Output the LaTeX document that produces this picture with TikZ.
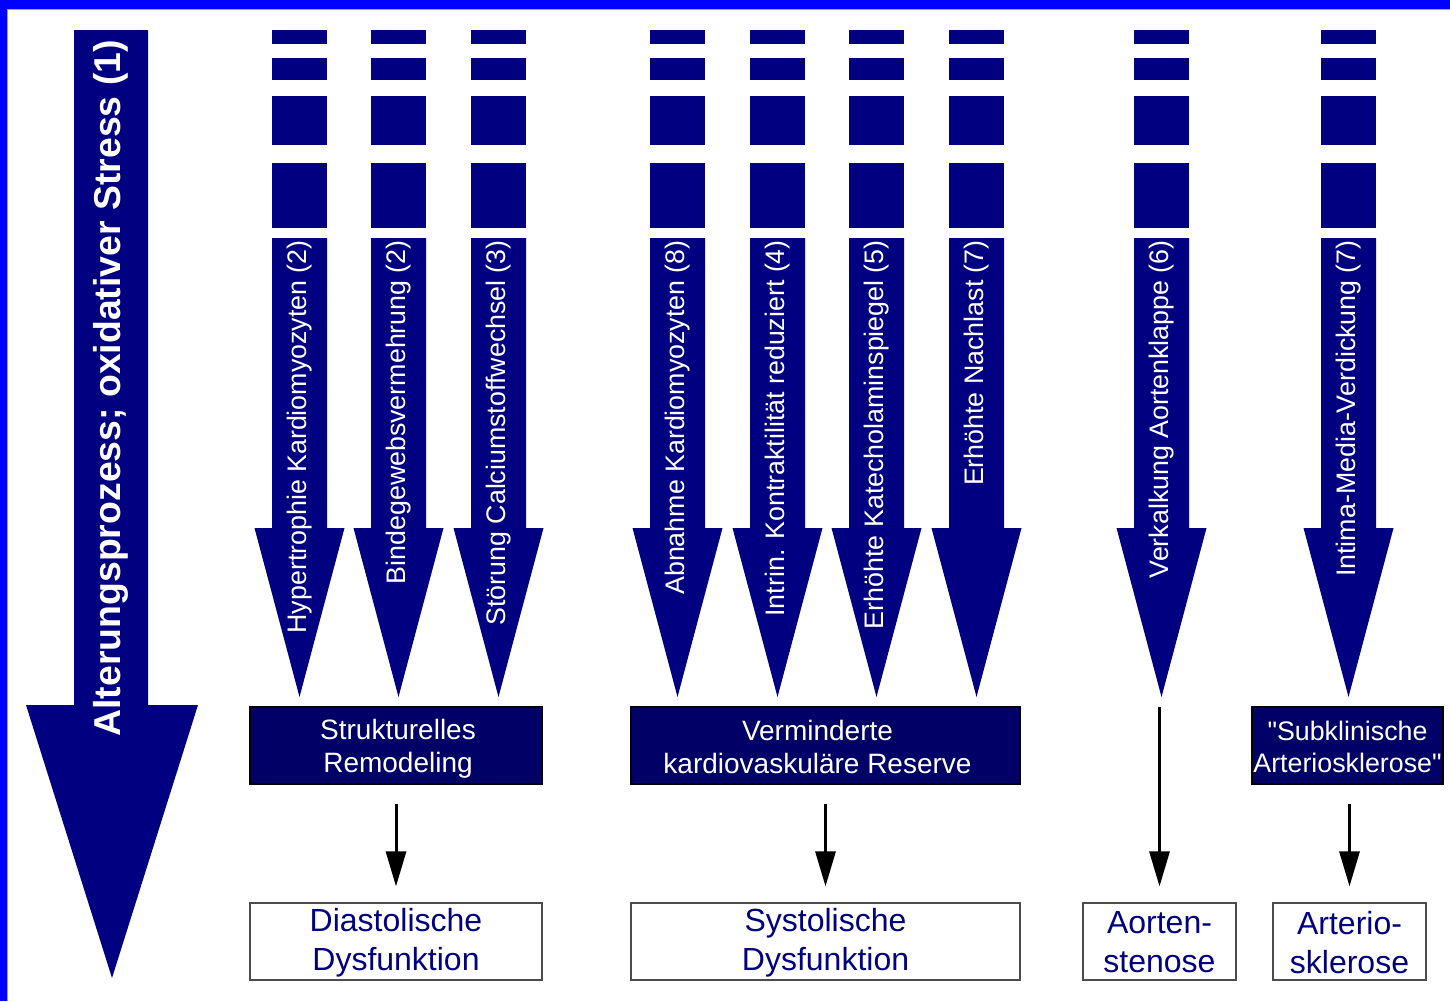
\documentclass[tikz,border=0pt]{standalone}
\usepackage{fontspec}
\setmainfont{Liberation Sans}
\usetikzlibrary{arrows.meta}
\definecolor{navyA}{HTML}{000080}
\definecolor{navyB}{HTML}{000066}
\definecolor{frameblue}{HTML}{0000FF}
\begin{document}
\begin{tikzpicture}[x=1pt,y=-1pt,
  darkbox/.style={draw=black, line width=1.2pt, fill=navyB, inner sep=0pt, minimum height=77},
  darktext/.style={text=white, align=center, inner sep=0pt, font=\fontsize{28}{33}\selectfont},
  lightbox/.style={draw=black!70, line width=1.2pt, fill=white, inner sep=0pt, minimum height=77},
  lighttext/.style={text=navyA, align=center, inner sep=0pt, font=\fontsize{32}{39}\selectfont},
  lab/.style={rotate=90, anchor=east, text=white, inner sep=0pt, font=\fontsize{26.8}{30}\selectfont},
  conn/.style={line width=3pt, -{Triangle[width=20pt,length=35pt]}}]
\useasboundingbox (0,0) rectangle (1450,1001);
\fill[white] (0,0) rectangle (1450,1001);
% frame
\fill[frameblue] (0,0) rectangle (1450,9);
\fill[frameblue] (0,0) rectangle (7,1001);
\fill[black!35] (7,9) rectangle (1450,10);
\fill[black!35] (7,9) rectangle (8,1001);
% big arrow
\fill[navyA] (74,30) -- (148,30) -- (148,705) -- (198,705) -- (112,978) -- (26,705) -- (74,705) -- cycle;
\node[lab, font=\bfseries\fontsize{37.4}{40}\selectfont] (big) at (111,40) {Alterungsprozess; oxidativer Stress (1)};
% small arrows
\foreach \c/\t [count=\i] in {
  299.5/{Hypertrophie Kardiomyozyten (2)},
  398.5/{Bindegewebsvermehrung (2)},
  498.5/{Störung Calciumstoffwechsel (3)},
  677.5/{Abnahme Kardiomyozyten (8)},
  777.5/{Intrin. Kontraktilität reduziert (4)},
  876.5/{Erhöhte Katecholaminspiegel (5)},
  976.5/{Erhöhte Nachlast (7)},
  1161.5/{Verkalkung Aortenklappe (6)},
  1348.5/{Intima-Media-Verdickung (7)}}{
  \fill[navyA] (\c-27.5,30) rectangle (\c+27.5,44);
  \fill[navyA] (\c-27.5,58) rectangle (\c+27.5,80);
  \fill[navyA] (\c-27.5,96) rectangle (\c+27.5,145);
  \fill[navyA] (\c-27.5,163) rectangle (\c+27.5,228);
  \fill[navyA] (\c-27.5,238) -- (\c+27.5,238) -- (\c+27.5,528) -- (\c+45,528) -- (\c,697) -- (\c-45,528) -- (\c-27.5,528) -- cycle;
  \node[lab] (l\i) at (\c,240) {\t};
}
% boxes
\node[darkbox, minimum width=292] (sr) at (396,745.5) {};
\node[darktext] (srt) at ([xshift=2pt,yshift=-3pt]sr.center) {Strukturelles\\Remodeling};
\node[darkbox, minimum width=389] (vr) at (825.5,745.5) {};
\node[darktext] (vrt) at ([xshift=-8pt,yshift=-1pt]vr.center) {Verminderte\\kardiovaskuläre Reserve};
\node[darkbox, minimum width=191] (sa) at (1347.5,745.5) {};
\node[darktext, font=\fontsize{26.8}{32}\selectfont] (sat) at ([yshift=-1pt]sa.center) {\textquotedbl Subklinische\\Arteriosklerose\textquotedbl};
\node[lightbox, minimum width=292] (dd) at (396,941.5) {};
\node[lighttext] (ddt) at ([yshift=-1pt]dd.center) {Diastolische\\Dysfunktion};
\node[lightbox, minimum width=389] (sd) at (825.5,941.5) {};
\node[lighttext] (sdt) at ([yshift=-1pt]sd.center) {Systolische\\Dysfunktion};
\node[lightbox, minimum width=153] (as) at (1159.5,941.5) {};
\node[lighttext] (ast) at ([yshift=-1pt]as.center) {Aorten-\\stenose};
\node[lightbox, minimum width=153] (ar) at (1349.5,941.5) {};
\node[lighttext] (art) at ([yshift=-1pt]ar.center) {Arterio-\\sklerose};
% connectors
\coordinate (a8) at (1159.5,707);
\draw[conn] ([yshift=-19pt]sr.south) -- ([yshift=16pt]dd.north);
\draw[conn] ([yshift=-19pt]vr.south -| sd.north) -- ([yshift=16pt]sd.north);
\draw[conn] (a8) -- ([yshift=16pt]as.north);
\draw[conn] ([yshift=-19pt]sa.south -| ar.north) -- ([yshift=16pt]ar.north);
\end{tikzpicture}
\end{document}
